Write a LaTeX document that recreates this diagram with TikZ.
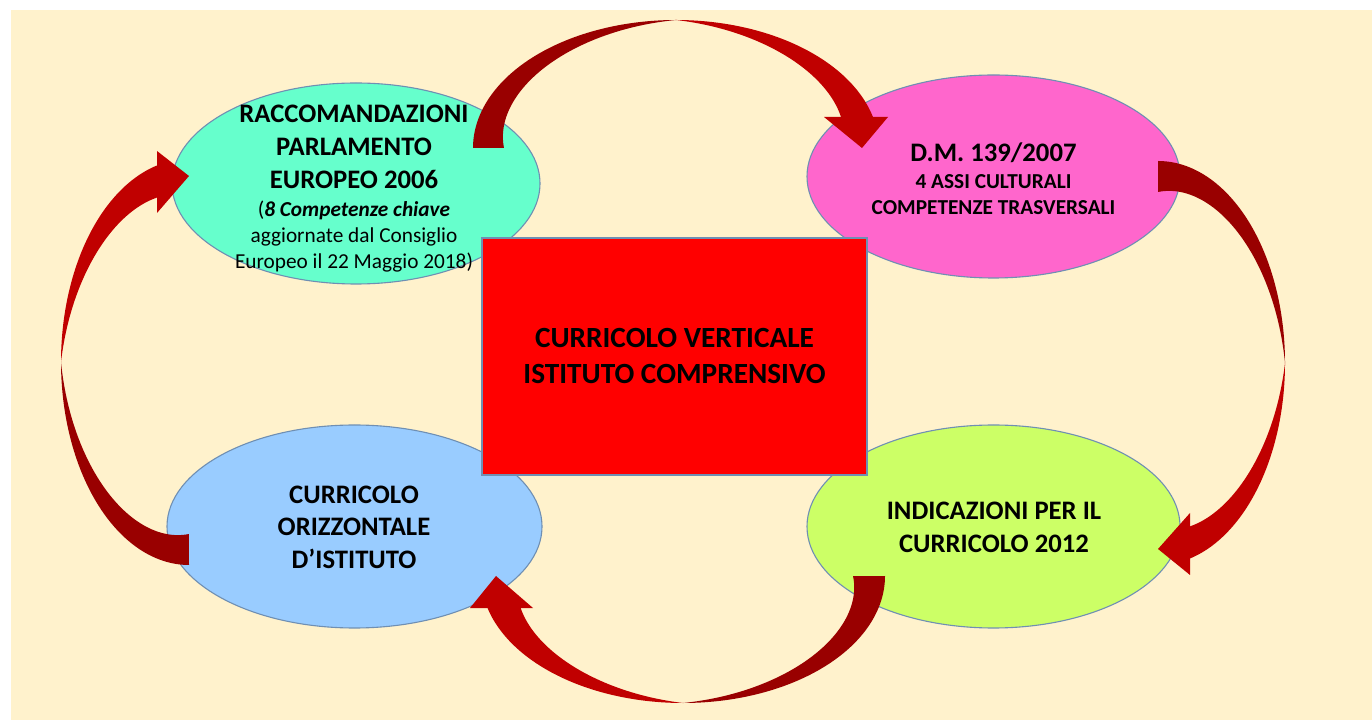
\documentclass[tikz,border=0pt]{standalone}
\usepackage{fontspec}
\setmainfont{Carlito}
\usetikzlibrary{shapes.geometric}
\definecolor{bgcream}{HTML}{FFF2CC}
\definecolor{edgeblue}{HTML}{6F8FB3}
\definecolor{ellgreen}{HTML}{66FFCC}
\definecolor{ellpink}{HTML}{FF66CC}
\definecolor{ellblue}{HTML}{99CCFF}
\definecolor{ellyellow}{HTML}{CCFF66}
\definecolor{boxred}{HTML}{FF0000}
\definecolor{arrowback}{HTML}{990000}
\definecolor{arrowfront}{HTML}{C00000}
% #1 colour, #2 cx, #3 cy, #4 a, #5 b, #6 phi0, #7 phi1, #8 w0, #9 w1
\newcommand{\ribbonfill}[9]{%
  \fill[#1] plot[domain=0:1, samples=70, variable=\t]
    ({#2+(#4)*cos((#6)+\t*((#7)-(#6)))},{#3+(#5)*sin((#6)+\t*((#7)-(#6)))})
    -- plot[domain=0:1, samples=70, variable=\t]
    ({#2+((#4)-((#9)+\t*((#8)-(#9))))*cos((#7)+\t*((#6)-(#7)))},
     {#3+((#5)-((#9)+\t*((#8)-(#9))))*sin((#7)+\t*((#6)-(#7)))}) -- cycle;}
\newcommand{\smalltxt}{\fontsize{21.3}{25}\selectfont}
\tikzset{
  bubble/.style={ellipse, draw=edgeblue, line width=1.1pt, inner sep=0pt},
  bigtxt/.style={align=center, font=\fontsize{26.7}{32.5}\selectfont\bfseries, text=black},
  headfill/.style={fill=arrowfront}
}
\begin{document}
\begin{tikzpicture}[x=1pt,y=1pt]
\useasboundingbox (0,0) rectangle (1372,720);
\fill[white] (0,0) rectangle (1372,720);
\fill[bgcream] (11,0) rectangle (1372,710);

% ellipses
\node[bubble, fill=ellgreen, minimum width=368pt, minimum height=201pt] (racc) at (356,536.5) {};
\node[bubble, fill=ellpink, minimum width=373pt, minimum height=203pt] (dm) at (993.5,543.5) {};
\node[bubble, fill=ellblue, minimum width=375pt, minimum height=203pt] (orizz) at (354.5,193.5) {};
\node[bubble, fill=ellyellow, minimum width=373pt, minimum height=203pt] (indic) at (993.5,193.5) {};

% central box
\node[draw=edgeblue, line width=1.1pt, fill=boxred, minimum width=385pt, minimum height=237pt,
      inner sep=0pt, align=center, font=\fontsize{29.3}{36}\selectfont\bfseries] (cv) at (674.5,363.5)
      {CURRICOLO VERTICALE\\ISTITUTO COMPRENSIVO};

% texts of the ellipses
\node[align=center, font=\fontsize{26.7}{25}\selectfont\bfseries, inner sep=0pt] (racctxt) at (354,531.5)
  {RACCOMANDAZIONI\\[8pt]
   PARLAMENTO\\[7.5pt]
   EUROPEO 2006\\[3.5pt]
   \smalltxt\mdseries(\textbf{\textit{8 Competenze chiave}}\\[1pt]
   \smalltxt\mdseries aggiornate dal Consiglio\\[0.5pt]
   \smalltxt\mdseries Europeo il 22 Maggio 2018)};
\node[align=center, font=\smalltxt\bfseries, inner sep=0pt] (dmtxt) at (993.5,541)
  {\fontsize{26.7}{25}\selectfont D.M. 139/2007\\[2pt]
   4 ASSI CULTURALI\\[1pt]
   COMPETENZE TRASVERSALI};
\node[bigtxt, inner sep=0pt] (orizztxt) at (354,193) {CURRICOLO\\ORIZZONTALE\\D’ISTITUTO};
\node[bigtxt, font=\fontsize{26.7}{33}\selectfont\bfseries, inner sep=0pt] (indictxt) at (994,193)
  {INDICAZIONI PER IL\\CURRICOLO 2012};

% top arrow: racc -> dm
\ribbonfill{arrowback}{676}{572}{203}{128}{180}{90}{31}{0}
\ribbonfill{arrowfront}{676}{572}{203}{128}{90}{14}{0}{31}
\coordinate (h1a) at (824,603); \coordinate (h1b) at (888,603); \coordinate (h1t) at (862,572);
\fill[headfill] (h1a) -- (h1b) -- (h1t) -- cycle;

% right arrow: dm -> indic
\ribbonfill{arrowback}{1158}{357}{127}{202}{90}{0}{31}{0}
\ribbonfill{arrowfront}{1158}{357}{127}{202}{0}{-75.4}{0}{31}
\coordinate (h2a) at (1190,207); \coordinate (h2b) at (1190,145); \coordinate (h2t) at (1158,171);
\fill[headfill] (h2a) -- (h2b) -- (h2t) -- cycle;

% bottom arrow: indic -> orizz
\ribbonfill{arrowback}{683}{144}{202}{127}{0}{-90}{32}{0}
\ribbonfill{arrowfront}{683}{144}{202}{127}{-90}{-165.4}{0}{32}
\coordinate (h3a) at (470,112); \coordinate (h3b) at (533,112); \coordinate (h3t) at (496,144);
\fill[headfill] (h3a) -- (h3b) -- (h3t) -- cycle;

% left arrow: orizz -> racc
\ribbonfill{arrowback}{189}{358}{128}{203}{-90}{-180}{31}{0}
\ribbonfill{arrowfront}{189}{358}{128}{203}{-180}{-255.5}{0}{31}
\coordinate (h4a) at (157,569); \coordinate (h4b) at (157,507); \coordinate (h4t) at (189,544);
\fill[headfill] (h4a) -- (h4b) -- (h4t) -- cycle;
\end{tikzpicture}
\end{document}
